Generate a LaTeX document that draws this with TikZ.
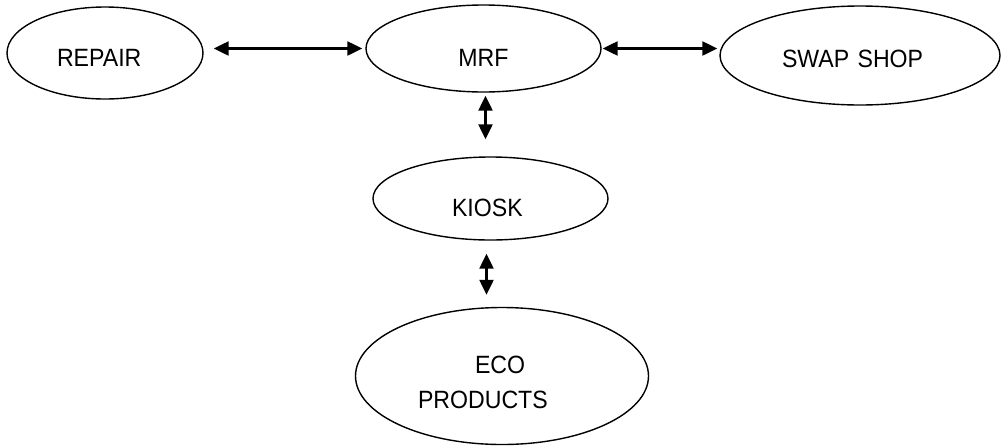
\documentclass[tikz,border=0pt]{standalone}
\usepackage{fontspec}
\setmainfont{Liberation Sans}[FakeStretch=0.925]
\usetikzlibrary{shapes.geometric,arrows.meta}
\begin{document}
\begin{tikzpicture}[x=1pt,y=-1pt,
  oval/.style={draw,ellipse,line width=1.4pt,inner sep=0pt,font=\fontsize{25}{35}\selectfont},
  tdown/.style={text height=#1,text depth=0pt},
  link/.style={line width=2.3pt,{Triangle[length=15pt,width=14pt]}-{Triangle[length=15pt,width=14pt]}}]
\useasboundingbox (0,0) rectangle (1001,445);
\node[oval,minimum width=196pt,minimum height=92pt,tdown=27pt,align=left,text width=96pt] (repair) at (105,53) {REPAIR};
\node[oval,minimum width=235pt,minimum height=87pt,tdown=35pt] (mrf) at (483.5,48.5) {MRF};
\node[oval,minimum width=280pt,minimum height=99pt,tdown=23pt,align=left,text width=156pt] (swap) at (860,55.5) {SWAP SHOP};
\node[oval,minimum width=235pt,minimum height=83pt,tdown=35pt,align=left,text width=77pt] (kiosk) at (490.5,198.5) {KIOSK};
\node[oval,minimum width=293pt,minimum height=137pt,align=left,text width=200pt,text height=30pt,text depth=35pt] (eco) at (502,376)
  {\hspace*{73pt}ECO\\\hspace*{16pt}PRODUCTS};
\draw[link,shorten <=10pt,shorten >=3pt] (repair.east |- mrf.west) -- (mrf.west);
\draw[link,shorten <=1pt,shorten >=2pt] (mrf.east) -- (swap.west |- mrf.east);
\draw[link,shorten <=3pt,shorten >=17pt] ([xshift=2pt]mrf.south) -- ([xshift=2pt]mrf.south |- kiosk.north);
\draw[link,shorten <=13pt,shorten >=12pt] ([xshift=-4pt]kiosk.south) -- ([xshift=-4pt]kiosk.south |- eco.north);
\end{tikzpicture}
\end{document}
